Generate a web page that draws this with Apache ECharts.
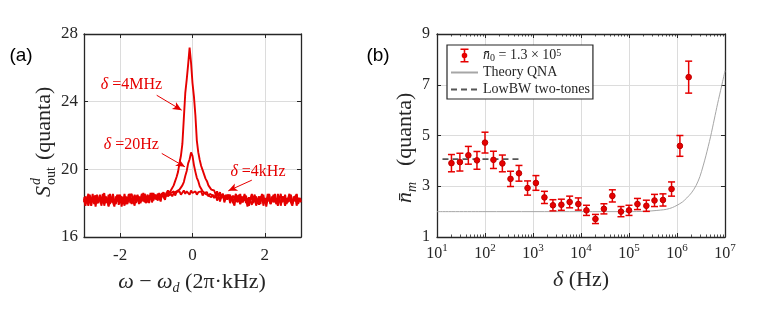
<!DOCTYPE html>
<html><head><meta charset="utf-8">
<script src="https://cdn.jsdelivr.net/npm/echarts@6/dist/echarts.min.js"></script>
<style>html,body{margin:0;padding:0;background:#fff}#c{width:763px;height:316px}</style>
</head><body><div id="c"></div>
<script>
// ---------- Panel (a): detuning spectra ----------
const freqStart = -3, freqStep = 0.04;   // frequency bins (2π·kHz)
const spec4MHz = [
 18.35,17.95,18.25,18.55,18.1,17.85,18.3,18.2,18.45,18.0,
 18.15,18.45,17.85,18.3,18.6,18.0,18.25,17.8,18.4,18.2,
 18.55,18.1,17.95,18.35,18.15,18.5,17.8,18.3,18.25,17.95,
 18.2,18.55,18.0,18.3,18.1,17.85,18.45,18.2,18.4,18.0,
 18.25,18.6,18.05,18.3,18.5,18.0,18.4,18.2,18.6,18.25,
 18.45,18.15,18.6,18.3,18.5,18.65,18.35,18.6,18.75,18.6,
 18.75,18.85,19.05,19.3,19.55,19.85,20.35,20.8,21.5,23.0,
 24.5,25.3,26.2,27.2,26.3,25.1,24.3,23.2,21.7,21.0,
 20.55,20.2,19.95,19.7,19.45,19.3,19.05,18.95,18.8,18.7,
 18.75,18.5,18.7,18.4,18.65,18.3,18.55,18.25,18.5,18.2,
 18.45,18.1,18.4,18.0,18.3,18.55,18.05,18.25,17.95,18.4,
 18.2,18.55,18.0,18.3,17.85,18.25,18.5,18.05,18.35,17.85,
 18.2,18.4,17.95,18.55,18.1,18.3,17.8,18.25,18.5,18.0,
 18.3,18.05,18.55,17.95,18.2,18.4,17.85,18.3,18.1,18.5,
 18.0,18.25,18.55,18.05,17.85,18.3,18.2,18.5,17.95,18.25,18.1];
const spec20Hz = [
 18.05,18.4,18.2,17.85,18.3,18.1,18.55,17.95,18.25,18.5,
 18.0,18.35,18.2,18.55,17.85,18.25,18.05,18.5,17.95,18.3,
 18.2,17.8,18.4,18.1,18.5,18.0,18.35,18.2,17.85,18.4,
 18.05,18.3,18.55,17.95,18.25,18.5,18.05,18.35,17.95,18.25,
 18.55,18.1,18.3,18.0,18.4,18.2,18.6,18.05,18.3,18.5,
 18.2,18.55,18.3,18.1,18.6,18.35,18.2,18.6,18.4,18.3,
 18.55,18.4,18.6,18.5,18.7,18.6,18.8,18.75,19.05,19.25,
 19.6,19.9,20.35,20.6,21.0,20.8,20.25,19.85,19.5,19.3,
 19.0,18.85,18.7,18.75,18.55,18.6,18.45,18.55,18.35,18.5,
 18.3,18.5,18.15,18.45,18.1,18.4,18.55,18.05,18.3,18.2,
 18.5,18.0,18.3,18.2,17.85,18.4,18.1,18.5,17.95,18.3,
 18.05,18.45,18.25,17.8,18.3,18.1,18.55,18.0,18.25,18.4,
 17.95,18.3,18.1,18.5,17.85,18.25,18.05,18.55,18.2,17.95,
 18.4,18.1,18.3,17.95,18.55,18.2,18.0,18.4,18.25,17.85,
 18.3,18.05,18.5,18.2,17.95,18.4,18.1,18.55,18.0,18.3,18.2];
const spec4kHz = [
 18.25,17.85,18.3,18.05,18.5,18.0,18.2,18.4,17.8,18.3,
 18.1,18.5,17.95,18.25,18.05,18.4,18.2,17.85,18.55,18.05,
 18.3,18.0,18.25,18.5,17.9,18.2,18.4,18.05,18.55,18.1,
 17.95,18.3,18.2,18.55,18.05,18.4,18.0,18.5,18.25,18.1,
 18.4,18.15,18.55,18.25,18.05,18.45,18.3,18.6,18.15,18.5,
 18.35,18.55,18.3,18.5,18.4,18.6,18.35,18.5,18.65,18.45,
 18.6,18.5,18.7,18.45,18.65,18.55,18.7,18.5,18.6,18.75,
 18.55,18.7,18.6,18.5,18.75,18.6,18.55,18.7,18.5,18.65,
 18.55,18.7,18.45,18.6,18.5,18.65,18.4,18.55,18.6,18.45,
 18.5,18.35,18.55,18.4,18.6,18.3,18.5,18.45,18.25,18.5,
 18.3,18.5,18.15,18.45,18.35,18.1,18.45,18.2,18.55,18.05,
 18.3,18.15,18.45,17.95,18.35,18.25,17.9,18.3,18.5,18.1,
 18.25,17.9,18.4,18.2,18.5,18.0,18.3,18.1,18.55,17.95,
 18.2,18.5,18.05,18.3,17.85,18.25,18.55,18.05,18.4,18.2,
 17.95,18.3,18.1,18.5,18.0,18.25,18.4,17.85,18.3,18.2,18.05];
const xTicksA = [-2, 0, 2];
const annoNames = ['4MHz', '20Hz', '4kHz'];
const annoAt = [[-1.69, 24.97], [-1.69, 21.43], [1.81, 19.84]];
const arrowFrom = [[-0.99, 24.38], [-0.85, 20.94], [1.64, 19.36]];
const arrowTo = [[-0.30, 23.5], [-0.21, 20.15], [0.99, 18.73]];

// ---------- Panel (b): n_m vs detuning ----------
const deltaHz = [20,30,45,68,100,150,230,340,510,770,1150,1730,2600,3900,5800,8800,
  13000,20000,30000,45000,68000,100000,150000,230000,340000,510000,770000,1150000,1750000];
const nBar = [3.91,3.95,4.22,4.02,4.72,4.04,3.90,3.29,3.51,2.93,3.13,2.56,2.25,2.27,2.38,2.30,
  2.05,1.71,2.11,2.62,2.00,2.05,2.30,2.23,2.44,2.46,2.89,4.59,7.30];
const nErr = [0.34,0.35,0.35,0.35,0.41,0.34,0.33,0.30,0.31,0.28,0.29,0.24,0.22,0.22,0.23,0.24,
  0.20,0.18,0.20,0.24,0.20,0.20,0.22,0.22,0.24,0.24,0.28,0.41,0.63];
const theoryDelta = [10,100,1e3,1e4,1e5,2e5,3e5,4.5e5,6e5,8e5,1e6,1.3e6,1.6e6,2e6,2.5e6,3e6,3.5e6,4e6,5e6,6e6,7e6,8.5e6,1e7];
const theoryN = [2.0,2.0,2.0,2.0,2.0,2.01,2.03,2.06,2.09,2.16,2.25,2.38,2.54,2.74,3.03,3.38,3.8,4.2,4.95,5.65,6.25,6.95,7.55];
const lowbwDelta = [13, 590];
const lowbwN = [4.07, 4.07];
const yTicksB = [1, 3, 5, 7, 9];
const minorMult = [2,3,4,5,6,7,8,9];
const minorDecades = [10,100,1e3,1e4,1e5,1e6];

// ---------- styling ----------
const red = '#e60000', ink = '#262626', gridC = '#dcdcdc';
const serif = '"Liberation Serif", "Times New Roman", serif';
const zip = (xs, ys) => xs.map((x, i) => [x, ys[i]]);
const spec = arr => arr.map((v, i) => [+(freqStart + i * freqStep).toFixed(2), v]);
const minorTicks = [];
minorDecades.forEach(d => minorMult.forEach(m => minorTicks.push(m * d)));

const frame = {lineStyle: {color: ink, width: 1.3}};
function boxAxis(base, pos, labels, extra) {
  return Object.assign({
    position: pos, axisLine: Object.assign({show: true, onZero: false}, frame),
    axisTick: {show: true, inside: true, length: 4, lineStyle: {color: ink, width: 1}},
    axisLabel: {show: labels}, splitLine: {show: false}, minorTick: {show: false}
  }, base, extra || {});
}
const tickFontA = {color: ink, fontFamily: serif, fontSize: 17};
const tickFontB = {color: ink, fontFamily: serif, fontSize: 16};

const aX = {gridIndex: 0, type: 'value', min: -3, max: 3};
const aY = {gridIndex: 0, type: 'value', min: 16, max: 28, interval: 4};
const bX = {gridIndex: 1, type: 'log', logBase: 10, min: 10, max: 1e7};
const bY = {gridIndex: 1, type: 'value', min: 1, max: 9};

const xAxis = [
  boxAxis(aX, 'bottom', true, {
    axisTick: {show: true, inside: true, length: 4, customValues: xTicksA, lineStyle: {color: ink}},
    axisLabel: Object.assign({show: true, margin: 10, customValues: xTicksA, showMinLabel: true, showMaxLabel: true}, tickFontA),
    splitLine: {show: true, lineStyle: {color: gridC, width: 1}}
  }),
  boxAxis(aX, 'top', false, {axisTick: {show: true, inside: true, length: 4, customValues: xTicksA, lineStyle: {color: ink}}}),
  boxAxis(bX, 'bottom', true, {
    axisLabel: Object.assign({show: true, margin: 6, showMinLabel: true, showMaxLabel: true, lineHeight: 22,
      formatter: v => '10{sup|' + Math.round(Math.log10(v)) + '}',
      rich: {sup: {fontSize: 11, fontFamily: serif, color: ink, lineHeight: 12, verticalAlign: 'top'}}}, tickFontB),
    splitLine: {show: true, lineStyle: {color: gridC, width: 1}}
  }),
  boxAxis(bX, 'bottom', false, {axisLine: {show: false},
    axisTick: {show: true, inside: true, length: 2.5, customValues: minorTicks, lineStyle: {color: ink, width: 0.8}}}),
  boxAxis(bX, 'top', false, {}),
  boxAxis(bX, 'top', false, {axisLine: {show: false},
    axisTick: {show: true, inside: true, length: 2.5, customValues: minorTicks, lineStyle: {color: ink, width: 0.8}}})
];
const yAxis = [
  boxAxis(aY, 'left', true, {
    axisLabel: Object.assign({show: true, margin: 6, showMinLabel: true, showMaxLabel: true}, tickFontA),
    splitLine: {show: true, lineStyle: {color: gridC, width: 1}}
  }),
  boxAxis(aY, 'right', false, {}),
  boxAxis(bY, 'left', true, {
    axisTick: {show: true, inside: true, length: 4, customValues: yTicksB, lineStyle: {color: ink}},
    axisLabel: Object.assign({show: true, margin: 7, customValues: yTicksB, showMinLabel: true, showMaxLabel: true}, tickFontB),
    splitLine: {show: true, lineStyle: {color: gridC, width: 1}}
  }),
  boxAxis(bY, 'right', false, {axisTick: {show: true, inside: true, length: 4, customValues: yTicksB, lineStyle: {color: ink}}})
];

const specLine = (name, arr, extra) => Object.assign({
  name: name, type: 'line', xAxisIndex: 0, yAxisIndex: 0, data: spec(arr),
  symbol: 'none', lineStyle: {color: red, width: 1.9}, itemStyle: {color: red}, z: 3, silent: true
}, extra || {});

const annoRich = {
  i: {fontStyle: 'italic', fontFamily: serif, fontSize: 16, color: red},
  t: {fontFamily: serif, fontSize: 16, color: red}
};

const series = [
  specLine('s4kHz', spec4kHz),
  specLine('s20Hz', spec20Hz),
  specLine('s4MHz', spec4MHz, {
    markPoint: {
      symbol: 'rect', symbolSize: 1, itemStyle: {color: 'rgba(0,0,0,0)'}, silent: true,
      label: {show: true, position: 'inside', formatter: p => '{i|δ}{t| =' + p.name + '}', rich: annoRich},
      data: annoNames.map((n, i) => ({name: n, coord: annoAt[i]}))
    },
    markLine: {
      silent: true, symbol: ['none', 'arrow'], symbolSize: [6, 9], label: {show: false},
      lineStyle: {color: red, width: 1, type: 'solid'},
      data: arrowFrom.map((f, i) => [{coord: f}, {coord: arrowTo[i]}])
    }
  }),
  {name: 'theory', type: 'line', xAxisIndex: 2, yAxisIndex: 2, data: zip(theoryDelta, theoryN),
   symbol: 'none', smooth: 0.3, lineStyle: {color: '#a6a6a6', width: 1}, itemStyle: {color: '#a6a6a6'}, z: 2},
  {name: 'lowbw', type: 'line', xAxisIndex: 2, yAxisIndex: 2, data: zip(lowbwDelta, lowbwN),
   symbol: 'none', lineStyle: {color: '#555555', width: 1.6, type: [6, 4]}, itemStyle: {color: '#555555'}, z: 2},
  {name: 'meas', type: 'custom', xAxisIndex: 2, yAxisIndex: 2, z: 4,
   data: deltaHz.map((d, i) => [d, nBar[i], nErr[i]]),
   encode: {x: 0, y: 1}, itemStyle: {color: red},
   renderItem: (params, api) => {
     const x = api.value(0), y = api.value(1), e = api.value(2);
     const p = api.coord([x, y]), pt = api.coord([x, y + e]), pb = api.coord([x, y - e]);
     const w = 3.5, st = {stroke: red, lineWidth: 1.5};
     return {type: 'group', children: [
       {type: 'line', shape: {x1: p[0], y1: pt[1], x2: p[0], y2: pb[1]}, style: st},
       {type: 'line', shape: {x1: p[0] - w, y1: pt[1], x2: p[0] + w, y2: pt[1]}, style: st},
       {type: 'line', shape: {x1: p[0] - w, y1: pb[1], x2: p[0] + w, y2: pb[1]}, style: st},
       {type: 'circle', shape: {cx: p[0], cy: p[1], r: 2.8}, style: {fill: red, stroke: '#c00000', lineWidth: 1}}
     ]};
   }}
];

const legendRich = {
  i: {fontStyle: 'italic', fontFamily: serif, fontSize: 14, color: ink},
  sub: {fontFamily: serif, fontSize: 10, color: ink, lineHeight: 10, verticalAlign: 'bottom'},
  sup: {fontFamily: serif, fontSize: 10, color: ink, lineHeight: 10, verticalAlign: 'top'}
};
const legendText = {
  meas: '{i|n\u0304}{sub|0} = 1.3 × 10{sup|5}',
  theory: 'Theory QNA',
  lowbw: 'LowBW two-tones'
};

const txt = (x, y, text, font, extra) => ({type: 'text', x: x, y: y, silent: true,
  style: Object.assign({text: text, font: font, fill: ink, align: 'left', verticalAlign: 'middle',
    textAlign: 'left', textVerticalAlign: 'middle'}, extra || {})});
const center = {align: 'center', textAlign: 'center'};

const graphic = [
  txt(21, 56, '(a)', '19px "Liberation Sans", Arial, sans-serif', Object.assign({fill: '#000'}, center)),
  txt(378, 56, '(b)', '19px "Liberation Sans", Arial, sans-serif', Object.assign({fill: '#000'}, center)),
  {type: 'text', x: 192, y: 282, silent: true, style: {
    text: '{i|ω} − {i|ω}{sub|d} (2π·kHz)', fontFamily: serif, fontSize: 22, fill: ink, lineHeight: 26,
    align: 'center', verticalAlign: 'middle', textAlign: 'center', textVerticalAlign: 'middle',
    rich: {i: {fontStyle: 'italic', fontFamily: serif, fontSize: 22, color: ink},
           sub: {fontStyle: 'italic', fontFamily: serif, fontSize: 14, color: ink, lineHeight: 14, verticalAlign: 'bottom'}}}},
  {type: 'text', x: 581, y: 280, silent: true, style: {
    text: '{i|δ} (Hz)', fontFamily: serif, fontSize: 22, fill: ink, lineHeight: 26,
    align: 'center', verticalAlign: 'middle', textAlign: 'center', textVerticalAlign: 'middle',
    rich: {i: {fontStyle: 'italic', fontFamily: serif, fontSize: 22, color: ink}}}},
  {type: 'group', x: 44, y: 197, rotation: Math.PI / 2, silent: true, children: [
    txt(0, 0, 'S', 'italic 22px ' + serif),
    txt(12, -8, 'd', 'italic 14px ' + serif),
    txt(12, 7, 'out', '14px ' + serif),
    txt(37, 0, '(quanta)', '22px ' + serif)
  ]},
  {type: 'group', x: 405, y: 203, rotation: Math.PI / 2, silent: true, children: [
    txt(0, 0, 'n\u0304', 'italic 22px ' + serif),
    txt(11, 7, 'm', 'italic 14px ' + serif),
    txt(37, 0, '(quanta)', '22px ' + serif)
  ]}
];

const chart = echarts.init(document.getElementById('c'), null, {renderer: 'canvas'});
chart.setOption({
  animation: false,
  backgroundColor: '#fff',
  grid: [
    {left: 84, top: 34, width: 217, height: 203, containLabel: false, outerBoundsMode: 'none'},
    {left: 437, top: 34, width: 288, height: 203, containLabel: false, outerBoundsMode: 'none'}
  ],
  xAxis: xAxis, yAxis: yAxis,
  legend: {
    orient: 'vertical', left: 447, top: 45, padding: [3, 3, 2, 3], itemGap: 2,
    itemWidth: 27, itemHeight: 14, borderColor: ink, borderWidth: 1.2, borderRadius: 0,
    backgroundColor: '#fff', selectedMode: false, z: 10,
    data: [
      {name: 'meas', icon: 'path://M1,0H9V1.6H5.8V12.4H9V14H1V12.4H4.2V1.6H1Z M5,4.2A2.8,2.8,0,1,1,4.99,4.2Z'},
      {name: 'theory', itemStyle: {opacity: 0}},
      {name: 'lowbw', itemStyle: {opacity: 0}}
    ],
    formatter: n => legendText[n],
    textStyle: {fontFamily: serif, fontSize: 14, color: ink, lineHeight: 15, rich: legendRich}
  },
  graphic: graphic,
  series: series
});
</script></body></html>
